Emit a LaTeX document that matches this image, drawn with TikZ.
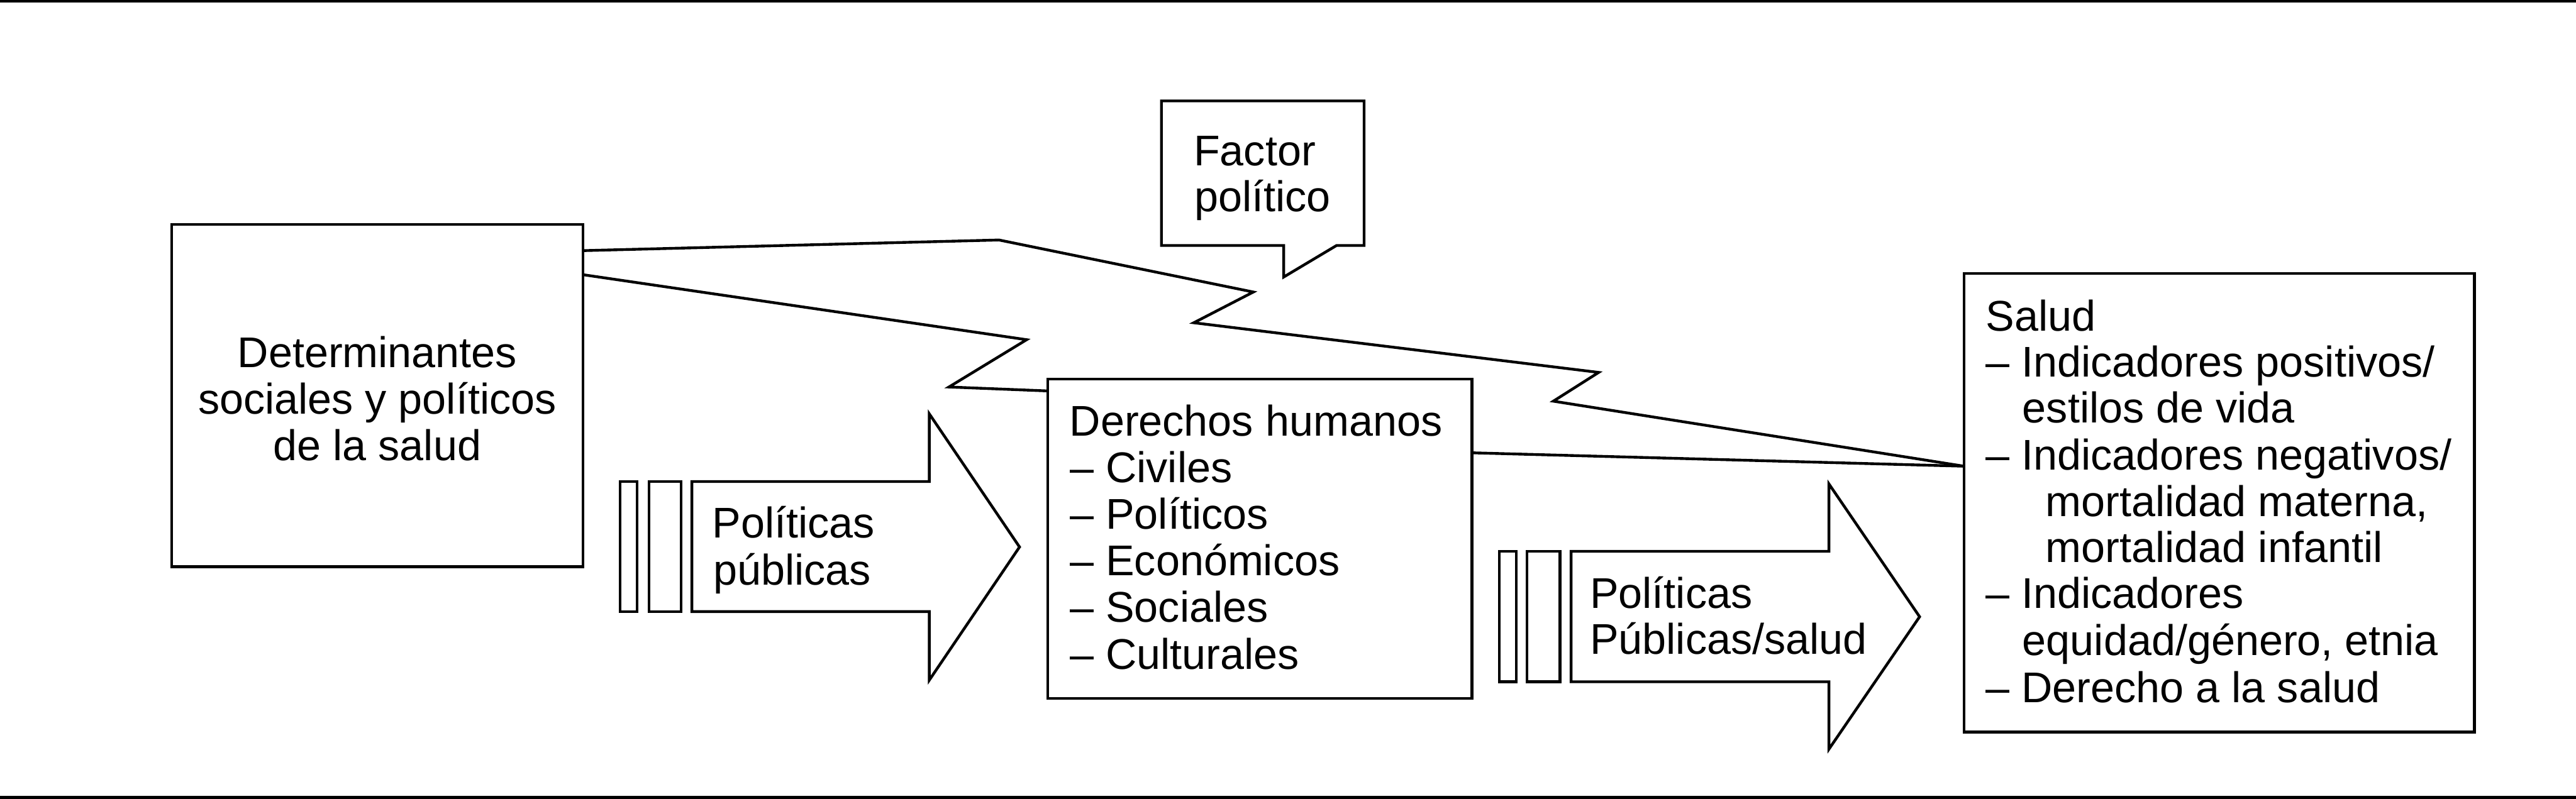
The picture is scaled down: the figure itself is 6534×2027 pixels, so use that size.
\documentclass[tikz,border=0pt]{standalone}
\usepackage{fontspec}
\setmainfont{Liberation Sans}
\begin{document}
\begin{tikzpicture}[x=0.01cm,y=-0.01cm,line width=0.07cm,line join=miter,
  box/.style={draw,inner sep=0pt,outer sep=0pt,line width=0.07cm},
  lbl/.style={anchor=base west,inner sep=0pt,outer sep=0pt,font=\fontsize{31pt}{33.5pt}\selectfont},
  clbl/.style={lbl,anchor=base},
  conn/.style={draw,line width=0.07cm,line join=miter}]
\useasboundingbox (0,0) rectangle (6534,2027);
% rules
\draw (0,3.5) -- (6534,3.5);
\draw (0,2023.5) -- (6534,2023.5);
% boxes
\node[box,minimum width=10.42cm,minimum height=8.68cm] (det) at (957,1004) {};
\node[box,minimum width=10.75cm,minimum height=8.10cm] (der) at (3195.5,1367) {};
\node[box,minimum width=12.94cm,minimum height=11.63cm] (sal) at (5629,1275.5) {};
% callout
\coordinate (fa) at (2946,256);
\coordinate (fb) at (3460,623);
\draw (fa) -- (fa -| fb) -- (fb) -- (3390,623) -- (3256,703) -- (3256,623) -- (fa |- fb) -- cycle;
% connectors
\draw[conn] (det.east |- 0,636) -- (2534,609) -- (3179,741) -- (3028,819) -- (4055,945) -- (3940,1018) -- (sal.west |- 0,1183);
\draw[conn] (det.east |- 0,697) -- (2604,862) -- (2407,982) -- (der.west |- 0,992);
\draw[conn] (der.east |- 0,1149) -- (sal.west |- 0,1183);
% arrow 1
\draw (1573,1222) rectangle (1616,1552);
\draw (1646,1222) rectangle (1728,1552);
\draw (1755,1222) -- (2357,1222) -- (2357,1050) -- (2586,1388) -- (2357,1726) -- (2357,1552) -- (1755,1552) -- cycle;
% arrow 2
\draw (3803,1399) rectangle (3846,1730);
\draw (3873,1399) rectangle (3957,1730);
\draw (3985,1399) -- (4639,1399) -- (4639,1228) -- (4869,1565) -- (4639,1901) -- (4639,1730) -- (3985,1730) -- cycle;
% texts: determinantes
\node[clbl] (t1) at (957,933) {Determinantes};
\node[clbl] (t2) at (957,1050) {sociales y políticos};
\node[clbl] (t3) at (957,1169) {de la salud};
% factor
\node[lbl] (f1) at (3028,420) {Factor};
\node[lbl] (f2) at (3030,536) {político};
% arrow texts
\node[lbl] (p1) at (1807,1365) {Políticas};
\node[lbl] (p2) at (1809,1484) {públicas};
\node[lbl] (q1) at (4033,1543) {Políticas};
\node[lbl] (q2) at (4033,1660) {Públicas/salud};
% derechos
\node[lbl] (d0) at (2713,1107) {Derechos humanos};
\node[lbl] (d1) at (2714,1224) {– Civiles};
\node[lbl] (d2) at (2714,1342) {– Políticos};
\node[lbl] (d3) at (2714,1460) {– Económicos};
\node[lbl] (d4) at (2714,1579) {– Sociales};
\node[lbl] (d5) at (2714,1698) {– Culturales};
% salud
\node[lbl] (s0) at (5037,840) {Salud};
\node[lbl] (s1) at (5037,957) {– Indicadores positivos/};
\node[lbl] (s2) at (5130,1073) {estilos de vida};
\node[lbl] (s3) at (5037,1192) {– Indicadores negativos/};
\node[lbl] (s4) at (5189,1310) {mortalidad materna,};
\node[lbl] (s5) at (5189,1427) {mortalidad infantil};
\node[lbl] (s6) at (5037,1543) {– Indicadores};
\node[lbl] (s7) at (5130,1663) {equidad/género, etnia};
\node[lbl] (s8) at (5037,1782) {– Derecho a la salud};
\end{tikzpicture}
\end{document}
